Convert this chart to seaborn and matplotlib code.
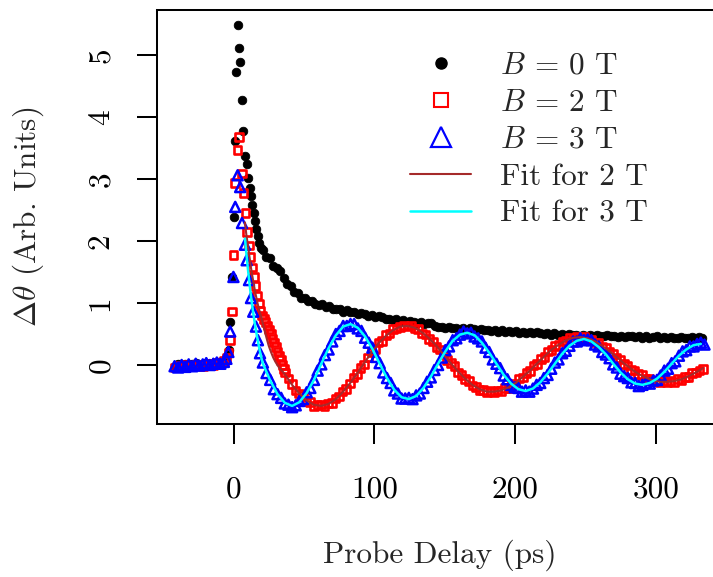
import numpy as np
import pandas as pd
import matplotlib
matplotlib.use("Agg")
import matplotlib.pyplot as plt
from matplotlib.lines import Line2D
import seaborn as sns

# ---------------- data ----------------
# B = 0 T (black dots)
black_t_early = [-42, -39.5, -37, -34.5, -32, -29.5, -27, -24.5, -22, -19.5, -17, -14.5, -12, -9.5, -7, -5.2,
                 -3.5, -2.4, -1.2, 0.0, 1.2, 1.9, 2.8, 3.8, 4.7, 5.9, 6.8, 8.0, 9.2, 10.3, 11.3, 12.3, 13.3,
                 14.3, 15.2, 16.2, 17.3, 18.3, 19.4]
black_v_early = [-0.01, 0.01, -0.02, 0.02, 0.00, 0.01, 0.03, 0.00, 0.02, 0.04, 0.01, 0.03, 0.05, 0.03, 0.07, 0.12,
                 0.25, 0.70, 1.42, 2.39, 3.62, 4.72, 5.49, 5.12, 4.88, 4.27, 3.77, 3.37, 3.24, 3.02, 2.85, 2.72, 2.58,
                 2.45, 2.32, 2.20, 2.08, 1.97, 1.88]
black_tail_start, black_tail_step = 20.5, 2.5
black_tail = [1.85, 1.75, 1.72, 1.60, 1.57, 1.51, 1.40, 1.31, 1.27, 1.18, 1.16, 1.08, 1.08, 1.03, 1.04, 0.99,
              0.97, 0.99, 0.94, 0.95, 0.90, 0.91, 0.90, 0.86, 0.88, 0.85, 0.86, 0.82, 0.84, 0.83, 0.79, 0.81,
              0.78, 0.79, 0.77, 0.74, 0.75, 0.72, 0.74, 0.71, 0.73, 0.70, 0.71, 0.70, 0.68, 0.69, 0.66, 0.68,
              0.67, 0.63, 0.61, 0.62, 0.60, 0.61, 0.59, 0.60, 0.58, 0.59, 0.57, 0.59, 0.58, 0.56, 0.58, 0.56,
              0.57, 0.55, 0.57, 0.54, 0.56, 0.54, 0.55, 0.53, 0.55, 0.52, 0.54, 0.52, 0.53, 0.51, 0.53, 0.52,
              0.50, 0.52, 0.49, 0.51, 0.49, 0.50, 0.48, 0.50, 0.48, 0.49, 0.47, 0.49, 0.47, 0.48, 0.46, 0.48,
              0.46, 0.47, 0.48, 0.46, 0.47, 0.45, 0.47, 0.45, 0.46, 0.47, 0.45, 0.46, 0.44, 0.46, 0.44, 0.45,
              0.46, 0.44, 0.45, 0.43, 0.45, 0.43, 0.44, 0.45, 0.43, 0.44, 0.45, 0.43, 0.45, 0.44]

# B = 2 T (red open squares)
red_t_early = [-42, -39.5, -37, -34.5, -32, -29.5, -27, -24.5, -22, -19.5, -17, -14.5, -12, -9.5, -7,
               -5.2, -3.6, -2.5, -1.3, -0.1, 1.1, 2.6, 3.8, 5.8, 7.0, 8.3, 9.5, 10.7, 11.9, 13.1, 14.3, 15.5,
               16.7, 17.9, 19.1, 20.3, 21.5, 22.7, 23.9, 25.1, 26.3, 27.5, 28.7, 29.9, 31.1, 32.3, 33.5, 34.7, 35.6]
red_v_early = [-0.04, -0.02, -0.03, 0.00, -0.02, -0.01, 0.00, 0.01, -0.02, 0.01, 0.02, 0.00, 0.03, 0.03, 0.06,
               0.12, 0.20, 0.40, 0.86, 1.77, 2.94, 3.47, 3.68, 3.09, 2.77, 2.45, 2.15, 1.93, 1.74, 1.57, 1.42, 1.27,
               1.12, 0.99, 0.88, 0.80, 0.74, 0.69, 0.64, 0.57, 0.50, 0.43, 0.36, 0.29, 0.22, 0.15, 0.08, 0.00, -0.06]
red_tail_start, red_tail_step = 36.375, 2.5625
red_tail = [-0.12, -0.22, -0.31, -0.41, -0.46, -0.50, -0.58, -0.60, -0.66, -0.65, -0.64, -0.66, -0.62, -0.61,
            -0.54, -0.51, -0.43, -0.39, -0.30, -0.20, -0.15, -0.05, 0.01, 0.12, 0.21, 0.26, 0.36, 0.39, 0.48,
            0.51, 0.58, 0.59, 0.61, 0.64, 0.62, 0.64, 0.59, 0.58, 0.51, 0.49, 0.42, 0.38, 0.29, 0.25, 0.18,
            0.08, 0.03, -0.02, -0.12, -0.16, -0.23, -0.26, -0.33, -0.35, -0.40, -0.40, -0.44, -0.42, -0.44,
            -0.41, -0.42, -0.37, -0.37, -0.32, -0.30, -0.22, -0.20, -0.13, -0.10, -0.01, 0.02, 0.10, 0.13,
            0.22, 0.24, 0.31, 0.32, 0.38, 0.39, 0.44, 0.43, 0.46, 0.44, 0.45, 0.41, 0.41, 0.36, 0.35, 0.30,
            0.28, 0.21, 0.18, 0.11, 0.09, 0.02, -0.01, -0.08, -0.09, -0.15, -0.16, -0.22, -0.22, -0.26, -0.25,
            -0.28, -0.26, -0.28, -0.26, -0.27, -0.23, -0.24, -0.19, -0.19, -0.13, -0.12, -0.09, -0.06]

# B = 3 T (blue open triangles)
blue_t_early = [-42, -39.5, -37, -34.5, -32, -29.5, -27, -24.5, -22, -19.5, -17, -14.5, -12, -9.5, -7,
                -5.2, -3.8, -2.5, -0.2, 1.1, 2.8, 4.6, 5.9, 8.0, 9.2, 10.9, 12.3, 13.9, 15.8, 17.2, 18.7]
blue_v_early = [-0.02, -0.04, 0.00, -0.03, 0.01, -0.02, 0.02, -0.01, 0.01, 0.03, 0.00, 0.02, 0.04, 0.02, 0.05,
                0.10, 0.21, 0.54, 1.42, 2.55, 3.06, 2.87, 2.29, 1.94, 1.69, 1.37, 1.08, 0.86, 0.62, 0.40, 0.19]
blue_tail_start, blue_tail_step = 20.75, 2.59375
blue_tail = [0.04, -0.13, -0.24, -0.39, -0.47, -0.53, -0.62, -0.64, -0.68, -0.65, -0.58, -0.55, -0.44, -0.37,
             -0.24, -0.09, 0.01, 0.16, 0.25, 0.38, 0.50, 0.55, 0.63, 0.63, 0.66, 0.66, 0.59, 0.55, 0.44, 0.36,
             0.28, 0.13, 0.03, -0.12, -0.21, -0.29, -0.41, -0.46, -0.54, -0.54, -0.53, -0.55, -0.49, -0.46,
             -0.37, -0.27, -0.20, -0.08, 0.00, 0.12, 0.24, 0.30, 0.40, 0.43, 0.49, 0.54, 0.51, 0.52, 0.46,
             0.43, 0.38, 0.28, 0.21, 0.09, 0.02, -0.05, -0.17, -0.23, -0.32, -0.36, -0.37, -0.43, -0.41, -0.43,
             -0.38, -0.32, -0.29, -0.21, -0.16, -0.06, 0.04, 0.09, 0.19, 0.23, 0.31, 0.38, 0.38, 0.43, 0.40,
             0.41, 0.40, 0.33, 0.30, 0.21, 0.17, 0.11, 0.01, -0.04, -0.14, -0.18, -0.21, -0.28, -0.29, -0.34,
             -0.32, -0.29, -0.30, -0.25, -0.24, -0.17, -0.09, -0.06, 0.03, 0.06, 0.15, 0.22, 0.24, 0.30, 0.30,
             0.34, 0.36, 0.33]

# Fit for 2 T (brown line)
fit2_t_early = [8.0, 9.0, 10.6, 12.2, 13.8, 15.4, 17.0, 18.6, 20.1, 21.7, 23.3, 24.9, 26.5, 28.1, 29.7, 31.3,
                32.9, 34.6]
fit2_v_early = [2.30, 2.10, 1.85, 1.58, 1.36, 1.16, 0.99, 0.85, 0.73, 0.58, 0.44, 0.31, 0.21, 0.12, 0.05, -0.01,
                -0.06, -0.10]
fit2_tail_start, fit2_tail_step = 36.375, 5.125
fit2_tail = [-0.15, -0.32, -0.46, -0.57, -0.64, -0.66, -0.63, -0.56, -0.44, -0.30, -0.14, 0.03, 0.20, 0.35,
             0.47, 0.56, 0.62, 0.63, 0.60, 0.53, 0.43, 0.31, 0.17, 0.03, -0.10, -0.22, -0.32, -0.39, -0.43,
             -0.43, -0.41, -0.36, -0.29, -0.19, -0.09, 0.03, 0.14, 0.25, 0.33, 0.40, 0.44, 0.45, 0.43, 0.38,
             0.31, 0.22, 0.13, 0.03, -0.06, -0.14, -0.20, -0.25, -0.27, -0.27, -0.26, -0.23, -0.18, -0.12, -0.05]

# Fit for 3 T (cyan line)
fit3_t_early = [8.0, 9.0, 10.0, 11.0, 12.0, 13.0, 14.0, 15.0, 16.5, 18.0, 19.5]
fit3_v_early = [2.04, 1.80, 1.57, 1.36, 1.16, 0.98, 0.82, 0.67, 0.47, 0.29, 0.13]
fit3_tail_start, fit3_tail_step = 20.75, 5.1875
fit3_tail = [0.02, -0.25, -0.47, -0.61, -0.66, -0.60, -0.45, -0.24, 0.02, 0.27, 0.48, 0.62, 0.66, 0.60, 0.46,
             0.26, 0.02, -0.21, -0.40, -0.52, -0.55, -0.50, -0.37, -0.19, 0.02, 0.22, 0.39, 0.49, 0.52, 0.48,
             0.36, 0.20, 0.02, -0.16, -0.30, -0.39, -0.42, -0.38, -0.28, -0.14, 0.02, 0.18, 0.31, 0.39, 0.42,
             0.38, 0.29, 0.17, 0.02, -0.12, -0.23, -0.30, -0.32, -0.29, -0.22, -0.11, 0.02, 0.15, 0.25, 0.32,
             0.34]

x_ticks = [0, 100, 200, 300]
y_ticks = [0, 1, 2, 3, 4, 5]
x_label = "Probe Delay (ps)"
y_label = r"$\Delta\theta$ (Arb. Units)"
legend_labels = [r"$B$ = 0 T", r"$B$ = 2 T", r"$B$ = 3 T", "Fit for 2 T", "Fit for 3 T"]


def series(t_early, v_early, start, step, tail):
    t = list(t_early) + list(start + step * np.arange(len(tail)))
    v = list(v_early) + list(tail)
    return pd.DataFrame({"t": t, "v": v})


df0 = series(black_t_early, black_v_early, black_tail_start, black_tail_step, black_tail)
df2 = series(red_t_early, red_v_early, red_tail_start, red_tail_step, red_tail)
df3 = series(blue_t_early, blue_v_early, blue_tail_start, blue_tail_step, blue_tail)
dfit2 = series(fit2_t_early, fit2_v_early, fit2_tail_start, fit2_tail_step, fit2_tail)
dfit3 = series(fit3_t_early, fit3_v_early, fit3_tail_start, fit3_tail_step, fit3_tail)

# ---------------- style ----------------
sns.set_style("ticks")
plt.rcParams["font.family"] = ["cmr10", "DejaVu Serif"]
plt.rcParams["mathtext.fontset"] = "cm"
plt.rcParams["axes.unicode_minus"] = False
plt.rcParams["axes.formatter.use_mathtext"] = False

FS = 22.5
W, H = 713, 577
fig = plt.figure(figsize=(W / 100, H / 100), dpi=100)
fig.patch.set_facecolor("white")
left_px, right_px, top_px, bottom_px = 157, 723, 10, 424
ax = fig.add_axes([left_px / W, 1 - bottom_px / H, (right_px - left_px) / W, (bottom_px - top_px) / H])
ax.set_facecolor("white")

sns.scatterplot(data=df0, x="t", y="v", ax=ax, marker="o", s=38, color="black",
                edgecolor="black", linewidth=0.6, zorder=3, legend=False)
sns.scatterplot(data=df2, x="t", y="v", ax=ax, marker="s", s=30, facecolor="none",
                edgecolor="red", linewidth=1.9, zorder=4, legend=False)
sns.scatterplot(data=df3, x="t", y="v", ax=ax, marker="^", s=52, facecolor="none",
                edgecolor="blue", linewidth=1.8, zorder=5, legend=False)
sns.lineplot(data=dfit2, x="t", y="v", ax=ax, color="#A52A2A", linewidth=1.5, sort=False,
             estimator=None, zorder=6, legend=False)
sns.lineplot(data=dfit3, x="t", y="v", ax=ax, color="cyan", linewidth=1.8, sort=False,
             estimator=None, zorder=7, legend=False)

# axes scales: 0 ps at x=233.7 px, 1.407 px/ps ; 0 at y=365 px, 62 px/unit
x0, sx = 233.7, 1.407
y0, sy = 365.0, 62.0
ax.set_xlim((left_px - x0) / sx, (right_px - x0) / sx)
ax.set_ylim((y0 - bottom_px) / sy, (y0 - top_px) / sy)
ax.set_xticks(x_ticks)
ax.set_yticks(y_ticks)
ax.set_xticklabels([str(v) for v in x_ticks])
ax.set_yticklabels([str(v) for v in y_ticks])

for sp in ax.spines.values():
    sp.set_linewidth(1.45)
    sp.set_color("black")
ax.tick_params(axis="both", direction="out", length=14.4, width=1.45, colors="black", labelsize=FS)
ax.tick_params(axis="x", pad=23)
ax.tick_params(axis="y", pad=16)
for lab in ax.get_yticklabels():
    lab.set_rotation(90)
    lab.set_va("center")
    lab.set_ha("right")

ax.set_xlabel(x_label, fontsize=FS)
ax.set_ylabel(y_label, fontsize=FS)
ax.xaxis.set_label_coords(0.5, (bottom_px - 555) / (bottom_px - top_px))
ax.xaxis.label.set_va("center")
ax.yaxis.set_label_coords((28 - left_px) / (right_px - left_px), 0.5)
ax.yaxis.label.set_va("center")

handles = [
    Line2D([], [], linestyle="none", marker="o", markersize=8, color="black"),
    Line2D([], [], linestyle="none", marker="s", markersize=10, markerfacecolor="none",
           markeredgecolor="red", markeredgewidth=1.5),
    Line2D([], [], linestyle="none", marker="^", markersize=14.5, markerfacecolor="none",
           markeredgecolor="blue", markeredgewidth=1.6),
    Line2D([], [], color="#A52A2A", linewidth=1.5),
    Line2D([], [], color="cyan", linewidth=1.8),
]
leg = ax.legend(handles, legend_labels, loc="upper left",
                bbox_to_anchor=((410 - left_px) / (right_px - left_px), (bottom_px - 52) / (bottom_px - top_px)),
                frameon=False, fontsize=FS, handlelength=1.96, handletextpad=0.92,
                labelspacing=0.29, borderpad=0, borderaxespad=0)

fig.savefig("out.png", dpi=100, facecolor="white")
